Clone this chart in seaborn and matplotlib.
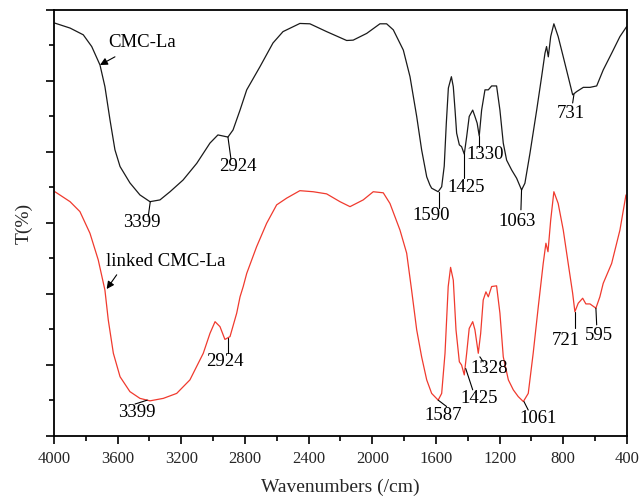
import numpy as np
import pandas as pd
import matplotlib
matplotlib.use("Agg")
import matplotlib.pyplot as plt
from matplotlib.ticker import MultipleLocator, NullFormatter
import seaborn as sns

# FTIR spectra: wavenumber (cm^-1) and transmittance (arbitrary offset units)
cmc_wn = [3995, 3899, 3816, 3763, 3711, 3680, 3648, 3617, 3585, 3523, 3460, 3397,
          3334, 3271, 3189, 3103, 3020, 2970, 2938, 2907, 2875, 2831, 2789, 2706,
          2624, 2561, 2455, 2392, 2287, 2161, 2120, 2035, 1952, 1910, 1868, 1805,
          1763, 1721, 1690, 1658, 1638, 1627, 1586, 1564, 1548, 1535, 1522, 1503,
          1491, 1480, 1470, 1453, 1439, 1422, 1407, 1391, 1369, 1355, 1341, 1328,
          1313, 1292, 1271, 1250, 1219, 1198, 1177, 1156, 1124, 1093, 1062, 1041,
          1009, 967, 936, 915, 905, 894, 879, 859, 832, 800, 769, 741, 716, 674,
          632, 590, 549, 496, 444, 402]
cmc_t = [11.63, 11.49, 11.30, 10.97, 10.45, 9.84, 8.90, 8.06, 7.59, 7.13, 6.79, 6.60,
         6.65, 6.88, 7.21, 7.68, 8.25, 8.48, 8.45, 8.42, 8.62, 9.18, 9.75, 10.40,
         11.07, 11.39, 11.62, 11.61, 11.39, 11.14, 11.15, 11.34, 11.61, 11.61, 11.44, 10.87,
         10.12, 9.00, 8.06, 7.30, 7.07, 6.98, 6.88, 7.02, 7.60, 8.80, 9.80, 10.12,
         9.84, 9.18, 8.53, 8.20, 8.15, 7.94, 8.43, 9.00, 9.18, 9.00, 8.81, 8.45,
         9.18, 9.75, 9.75, 9.86, 9.86, 9.18, 8.25, 7.77, 7.49, 7.26, 6.93, 7.12,
         7.97, 9.18, 10.12, 10.78, 10.97, 10.68, 11.25, 11.61, 11.25, 10.68, 10.12, 9.61, 9.70, 9.82,
         9.82, 9.86, 10.31, 10.78, 11.25, 11.53]

linked_wn = [3994, 3899, 3837, 3774, 3722, 3680, 3659, 3627, 3585, 3523, 3460, 3397,
             3313, 3229, 3146, 3062, 3020, 2988, 2957, 2926, 2894, 2852, 2831, 2811,
             2789, 2727, 2664, 2601, 2538, 2455, 2371, 2287, 2203, 2140, 2057, 1994,
             1931, 1889, 1826, 1784, 1753, 1721, 1690, 1658, 1627, 1586, 1564, 1543,
             1523, 1508, 1491, 1474, 1453, 1439, 1422, 1407, 1391, 1369, 1355, 1334,
             1319, 1303, 1286, 1271, 1250, 1219, 1198, 1177, 1145, 1114, 1083, 1051,
             1020, 989, 957, 926, 909, 896, 879, 859, 832, 800, 769, 741, 727, 706,
             678, 658, 632, 595, 570, 549, 496, 444, 406]
linked_t = [6.88, 6.60, 6.32, 5.71, 4.96, 4.11, 3.27, 2.33, 1.67, 1.25, 1.06, 0.99,
            1.06, 1.20, 1.58, 2.33, 2.89, 3.22, 3.08, 2.72, 2.80, 3.46, 3.92, 4.21,
            4.58, 5.33, 5.99, 6.51, 6.70, 6.91, 6.88, 6.82, 6.60, 6.46, 6.65, 6.88,
            6.85, 6.55, 5.80, 5.15, 4.11, 2.99, 2.23, 1.58, 1.20, 1.01, 1.20, 2.33,
            4.21, 4.75, 4.39, 2.99, 2.09, 2.00, 1.72, 2.33, 3.03, 3.22, 2.99, 2.33,
            2.89, 3.83, 4.06, 3.92, 4.21, 4.23, 3.46, 2.23, 1.58, 1.30, 1.11, 0.97,
            1.20, 2.33, 3.64, 4.86, 5.43, 5.19, 6.08, 6.88, 6.55, 5.80, 4.86, 4.02, 3.50, 3.74,
            3.88, 3.72, 3.72, 3.60, 3.92, 4.30, 4.86, 5.80, 6.79]

series_names = ["CMC-La", "linked CMC-La"]
series_colors = ["#1a1a1a", "#f03a2e"]

x_ticks = [4000, 3600, 3200, 2800, 2400, 2000, 1600, 1200, 800, 400]

# peak labels: (text, curve point, leader end, text centre) in data units
cmc_peaks = [
    ("3399", (3395, 6.60), (3408, 6.18), (3447, 6.00)),
    ("2924", (2907, 8.42), (2888, 7.80), (2844, 7.58)),
    ("1590", (1581, 6.87), (1581, 6.42), (1627, 6.20)),
    ("1425", (1422, 7.96), (1422, 7.27), (1413, 7.01)),
    ("1330", (1328, 8.45), (1328, 8.15), (1292, 7.92)),
    ("1063", (1062, 6.95), (1066, 6.37), (1089, 6.04)),
    ("731", (733, 9.62), (741, 9.38), (754, 9.09)),
]
linked_peaks = [
    ("3399", (3414, 1.01), (3491, 0.90), (3480, 0.66)),
    ("2924", (2905, 2.75), (2905, 2.33), (2926, 2.09)),
    ("1587", (1586, 1.01), (1533, 0.83), (1554, 0.59)),
    ("1425", (1413, 1.90), (1369, 1.30), (1328, 1.06)),
    ("1328", (1324, 2.23), (1303, 2.09), (1265, 1.91)),
    ("1061", (1047, 0.97), (1020, 0.73), (957, 0.50)),
    ("721", (727, 3.50), (727, 3.03), (785, 2.68)),
    ("595", (595, 3.60), (590, 3.13), (574, 2.82)),
]

# series name tags: (text, text centre, arrow tail, arrow head)
series_tags = [
    ("CMC-La", (3447, 11.07), (3617, 10.68), (3711, 10.45)),
    ("linked CMC-La", (3299, 4.91), (3606, 4.54), (3669, 4.14)),
]

df = pd.concat([
    pd.DataFrame({"wn": cmc_wn, "T": cmc_t, "sample": series_names[0]}),
    pd.DataFrame({"wn": linked_wn, "T": linked_t, "sample": series_names[1]}),
], ignore_index=True)

sns.set_theme(style="ticks")
plt.rcParams["font.family"] = ["Liberation Serif", "DejaVu Serif"]

fig = plt.figure(figsize=(6.39, 4.98), dpi=100)
ax = fig.add_axes([0.0845, 0.1245, 0.8966, 0.8555])

sns.lineplot(data=df, x="wn", y="T", hue="sample", palette=series_colors,
             hue_order=series_names, estimator=None, linewidth=0.9,
             legend=False, ax=ax)

ax.set_xlim(4000, 400)
ax.set_ylim(0, 12)
ax.set_xticks(x_ticks)
ax.set_xticklabels([str(v) for v in x_ticks], fontsize=12)
ax.xaxis.set_minor_locator(MultipleLocator(200))
ax.yaxis.set_major_locator(MultipleLocator(2))
ax.yaxis.set_minor_locator(MultipleLocator(1))
ax.yaxis.set_major_formatter(NullFormatter())
ax.tick_params(axis="both", which="major", direction="out", length=6, width=1.2,
               color="black", top=False, right=False, pad=5)
ax.tick_params(axis="both", which="minor", direction="out", length=3.5, width=1.2,
               color="black", top=False, right=False)
for sp in ax.spines.values():
    sp.set_visible(True)
    sp.set_linewidth(1.3)
    sp.set_color("black")

ax.set_xlabel("Wavenumbers (/cm)", fontsize=14, labelpad=8)
ax.set_ylabel("T(%)", fontsize=14, labelpad=4)

label_fs = 13.5
for peaks in (cmc_peaks, linked_peaks):
    for text, p0, p1, pt in peaks:
        ax.plot([p0[0], p1[0]], [p0[1], p1[1]], color="black", lw=0.8)
        ax.text(pt[0], pt[1], text, fontsize=label_fs, ha="center", va="center",
                color="black")

for text, pt, tail, head in series_tags:
    ax.text(pt[0], pt[1], text, fontsize=label_fs, ha="center", va="center",
            color="black")
    ax.annotate("", xy=head, xytext=tail,
                arrowprops=dict(arrowstyle="-|>", color="black", lw=0.8,
                                mutation_scale=11, shrinkA=0, shrinkB=0))

fig.savefig("out.png", dpi=100)
